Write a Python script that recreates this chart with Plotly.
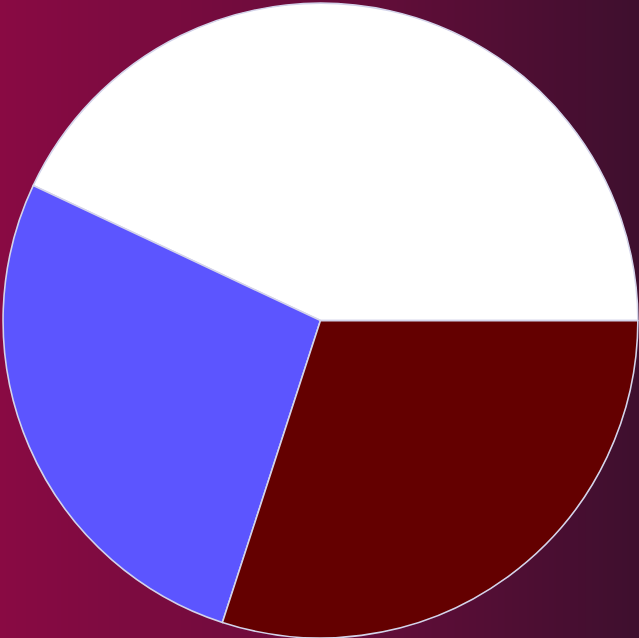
import plotly.graph_objects as go

labels = ["A", "B", "C"]
values = [43, 27, 30]
colors = ["#ffffff", "#5c55ff", "#640000"]

bg_steps = list(range(64))

fig = go.Figure()
fig.add_trace(go.Heatmap(
    z=[bg_steps, bg_steps],
    x=bg_steps,
    y=[0, 1],
    colorscale=[[0, "#890a43"], [0.5, "#6a0c3b"], [1, "#3e0f2e"]],
    showscale=False,
    zsmooth="best",
    hoverinfo="skip",
))
fig.add_trace(go.Pie(
    labels=labels,
    values=values,
    sort=False,
    direction="counterclockwise",
    rotation=-64.8,
    marker=dict(colors=colors, line=dict(color="#d4d4ea", width=1.6)),
    textinfo="none",
    hoverinfo="skip",
    showlegend=False,
    domain=dict(x=[0.003, 1.0], y=[0.0, 0.995]),
))
fig.update_layout(
    width=639, height=638,
    margin=dict(l=0, r=0, t=0, b=0),
    paper_bgcolor="#6a0c3b",
    plot_bgcolor="#6a0c3b",
    xaxis=dict(visible=False, range=[0, 63], domain=[0, 1], fixedrange=True),
    yaxis=dict(visible=False, range=[0, 1], domain=[0, 1], fixedrange=True),
    showlegend=False,
)
fig.write_html("out.html", config={"displayModeBar": False})
